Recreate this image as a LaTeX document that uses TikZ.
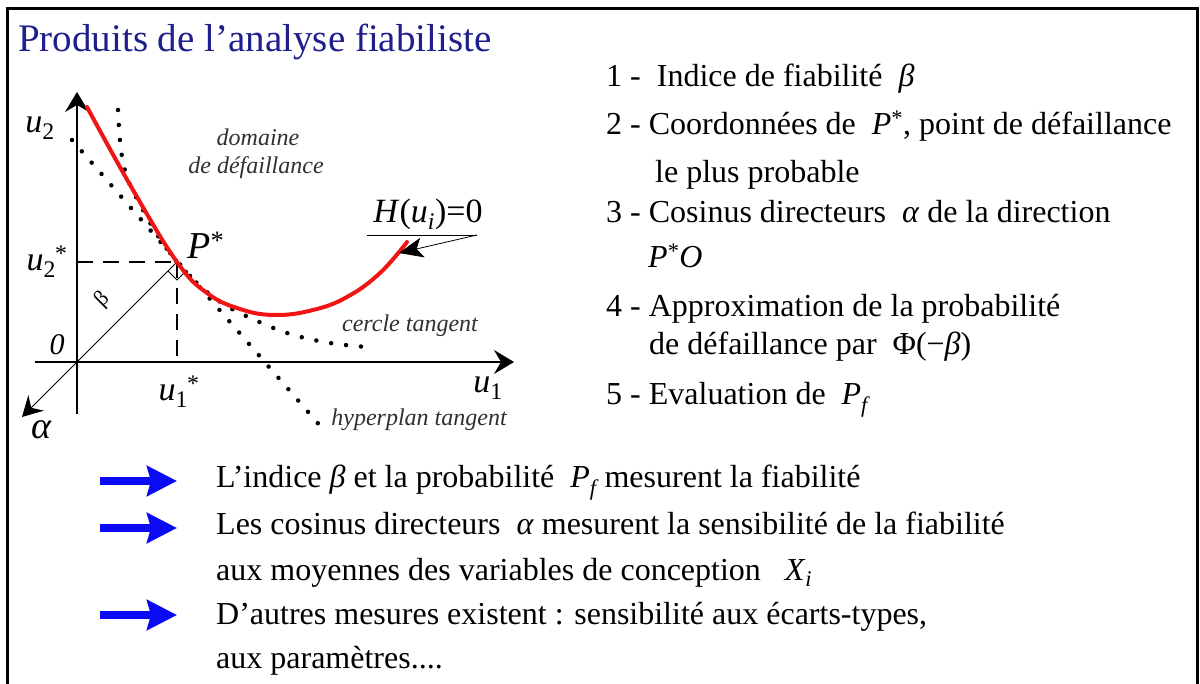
\documentclass[tikz,border=0pt]{standalone}
\usepackage{fontspec}
\setmainfont{Liberation Serif}
\usetikzlibrary{arrows.meta, positioning, calc}
\definecolor{titleblue}{HTML}{1E1E8C}
\definecolor{limitred}{HTML}{F01414}
\definecolor{markblue}{HTML}{0A0AF5}
\definecolor{notegray}{HTML}{303030}
\newcommand{\var}[3]{\textit{#1}\textsubscript{#2}\kern-1pt\textsuperscript{#3}}

\begin{document}
\begin{tikzpicture}[x=1pt, y=-1pt,
  axis/.style={-{Stealth[length=20pt, width=24pt, inset=7pt]}, line width=1.5pt},
  guide/.style={line width=1.2pt, dash pattern=on 16pt off 10pt},
  dotline/.style={line width=4.5pt, line cap=round, dash pattern=on 0pt off 15pt},
  listtext/.style={anchor=base west, inner sep=0pt, font=\fontsize{32}{38}\selectfont},
  notetext/.style={inner sep=0pt, font=\fontsize{24}{28}\selectfont\itshape, text=notegray},
  labeltext/.style={inner sep=0pt, font=\fontsize{34}{40}\selectfont},
  bigarrow/.style={-{Stealth[length=30pt, width=30pt, inset=4pt]}, line width=8pt, markblue},
  ]
  \useasboundingbox (0,0) rectangle (1200,684);
  \draw[line width=3pt] (7,684) -- (7,9) -- (1197,9) -- (1197,684);

  \node[anchor=base west, inner sep=0pt, font=\fontsize{39}{44}\selectfont,
        text=titleblue] (title) at (18,52) {Produits de l'analyse fiabiliste};

  % graph
  \coordinate (O) at (77,362);
  \coordinate (Pstar) at (177,262);
  \coordinate (u2top) at (77,92);
  \coordinate (u2bot) at (77,414);
  \coordinate (u1left) at (35,362);
  \coordinate (u1right) at (514,362);
  \coordinate (alphatip) at (22,417);

  \draw[axis] (u2bot) -- (u2top);
  \draw[axis] (u1left) -- (u1right);
  \draw[line width=1pt, -{Stealth[length=20pt, width=22pt, inset=7pt]}] (Pstar) -- (alphatip);
  \draw[guide] (O |- Pstar) -- (Pstar);
  \draw[guide] (Pstar) -- (Pstar |- O);
  \draw[line width=0.8pt] ($(Pstar)+(-9,9)$) -- ++(9,9) -- ++(9,-9);

  \draw[dotline] (72,140) -- (322,428);
  \draw[dotline] plot[smooth, tension=0.6] coordinates {(118,110) (121,150) (128,180)
    (142,208) (158,236) (177,262) (200,286) (225,305) (255,320) (290,334) (330,343) (367,347)};
  \draw[limitred, line width=4pt, line cap=round] plot[smooth, tension=0.7] coordinates {(87,107)
    (133,190) (177,262) (207,293) (240,309) (275,315) (313,310) (347,297) (380,273) (407,242)};

  \node[labeltext] (u2lab) at (40,128) {\textit{u}\textsubscript{2}};
  \node[labeltext] (u2slab) at (47,262) {\var{u}{2}{*}};
  \node[labeltext] (u1slab) at (179,392) {\var{u}{1}{*}};
  \node[labeltext] (u1lab) at (488,388) {\textit{u}\textsubscript{1}};
  \node[labeltext, font=\fontsize{30}{36}\selectfont\itshape] (olab) at (57,345) {0};
  \node[labeltext, font=\fontsize{38}{44}\selectfont\itshape] (alab) at (41,430) {α};
  \node[labeltext, font=\fontsize{22}{26}\selectfont, rotate=45] (blab) at (103,300) {β};
  \node[labeltext, font=\fontsize{38}{44}\selectfont] (plab) at (206,245) {\textit{P}\textsuperscript{*}};
  \node[labeltext] (hlab) at (428,214) {\textit{H}(\textit{u}\textsubscript{\textit{i}})=0};
  \coordinate (hwest) at (367,235);
  \coordinate (heast) at (477,235);
  \coordinate (redend) at (399,253);
  \draw[line width=0.7pt] (hwest) -- (heast);
  \draw[line width=0.8pt, -{Stealth[length=24pt, width=20pt, inset=6pt]}] (heast) -- (redend);

  \node[notetext] (dom1) at (258,137) {domaine};
  \node[notetext] (dom2) at (256,168) {de défaillance};
  \node[notetext] (circ) at (410,326) {cercle tangent};
  \node[notetext] (hyp) at (419,420) {hyperplan tangent};

  % list
  \node[listtext] (item1) at (606,87) {1 -\ \ Indice de fiabilité \ \textit{β}};
  \node[listtext] (item2) at (606,135) {2 - Coordonnées de \ \textit{P}\textsuperscript{*}, point de défaillance};
  \node[listtext] (item2b) at (655,183) {le plus probable};
  \node[listtext] (item3) at (606,223) {3 - Cosinus directeurs \ \textit{α} de la direction};
  \node[listtext] (item3b) at (648,268) {\textit{P}\textsuperscript{*}\textit{O}};
  \node[listtext] (item4) at (606,317) {4 - Approximation de la probabilité};
  \node[listtext] (item4b) at (649,355) {de défaillance par \ Φ(−\textit{β})};
  \node[listtext] (item5) at (606,405) {5 - Evaluation de \ \textit{P}\textsubscript{\textit{f}}};

  % conclusions
  \node[listtext] (note1) at (216,488) {L'indice \textit{β} et la probabilité \ \textit{P}\textsubscript{\textit{f}}\,mesurent la fiabilité};
  \node[listtext] (note2) at (216,534) {Les cosinus directeurs \ \textit{α} mesurent la sensibilité de la fiabilité};
  \node[listtext] (note2b) at (216,580) {aux moyennes des variables de conception \ \ \textit{X}\textsubscript{\textit{i}}};
  \node[listtext] (note3) at (216,624) {D'autres mesures existent : sensibilité aux écarts-types,};
  \node[listtext] (note3b) at (216,668) {aux paramètres....};
  \coordinate (a1s) at (100,481); \coordinate (a1e) at (177,481);
  \coordinate (a2s) at (100,528); \coordinate (a2e) at (177,528);
  \coordinate (a3s) at (100,615); \coordinate (a3e) at (177,615);
  \draw[bigarrow] (a1s) -- (a1e);
  \draw[bigarrow] (a2s) -- (a2e);
  \draw[bigarrow] (a3s) -- (a3e);
\end{tikzpicture}
\end{document}
